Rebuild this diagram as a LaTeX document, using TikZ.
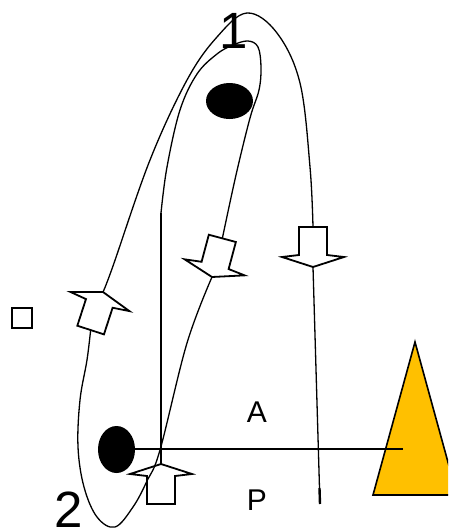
\documentclass[tikz,border=0pt]{standalone}
\usepackage{fontspec}
\setmainfont{Liberation Sans}
\definecolor{triyellow}{RGB}{255,192,0}
\tikzset{
  curve/.style={line width=1.3pt, line join=round},
  straight/.style={line width=2pt},
  arrowline/.style={line width=1.8pt, line join=miter, fill=white},
  blot/.style={fill=black},
  blockarr/.pic={
    \draw[arrowline] (0,0) -- (31,-10) -- (14,-12) -- (14,-40) -- (-14,-40) -- (-14,-12) -- (-31,-10) -- cycle;
    \coordinate (-tip) at (0,0);
    \coordinate (-tail) at (0,-40);
  },
  bigdigit/.style={inner sep=0pt, anchor=base, font=\fontsize{51}{51}\selectfont},
  letter/.style={inner sep=0pt, anchor=base, font=\fontsize{30}{30}\selectfont}
}
\begin{document}
\begin{tikzpicture}[x=1pt,y=-1pt]
\useasboundingbox (0,0) rectangle (448,531);
\clip (0,0) rectangle (448,531);

% triangle
\draw[line width=1.6pt, fill=triyellow, line join=miter] (415,342) -- (457,495) -- (373,495) -- cycle;

% arrows (tip positions)
\pic (ar) at (313,267) {blockarr};
\pic[rotate=-15] (am) at (212,277) {blockarr};
\pic[rotate=162] (al) at (103,292) {blockarr};
\pic[rotate=180] (ab) at (161,464) {blockarr};

\coordinate (vtop) at (161,213);
\coordinate (rend) at (319.5,488);
\coordinate (rend2) at (320,504);

% vertical line
\draw[straight] (ab-tip) -- (vtop);

% inner curve from vertical line to middle arrow
\draw[curve] plot[smooth, tension=0.6] coordinates {(vtop) (167,167) (180,110) (197,74) (217,54) (233,45) (248,41) (258,47) (261,67) (259,90) (250,118) (236,175) (am-tail)};

% loop from middle arrow down to bottom and up to left arrow
\draw[curve] plot[smooth, tension=0.6] coordinates {(am-tip) (187,343) (160,450) (147,481) (133,507) (115,527) (97,517) (84,487) (78,447) (80,400) (87,360) (al-tail)};

% outer curve from left arrow over the top to the right arrow
\draw[curve] plot[smooth, tension=0.6] coordinates {(al-tip) (113,266) (150,160) (187,80) (217,37) (247,13) (277,33) (300,83) (310,167) (ar-tail)};

% right descending line
\draw[curve] (ar-tip) -- (rend);
\draw[line width=2.4pt] (rend) -- (rend2);

% blobs
\fill[blot] (229.5,101) ellipse [x radius=23.5, y radius=18];
\fill[blot] (116.5,449.5) ellipse [x radius=18.5, y radius=23.5];
\coordinate (hstart) at (135,449);
\coordinate (hend) at (403,449);
\draw[straight] (hstart) -- (hend);

% small square
\draw[line width=1.4pt] (12,308) rectangle (32,328);

% labels
\node[bigdigit] (one) at (234,48) {1};
\node[bigdigit] (two) at (68.5,527) {2};
\node[letter] (la) at (257,422) {A};
\node[letter] (lp) at (257,510) {P};
\end{tikzpicture}
\end{document}
